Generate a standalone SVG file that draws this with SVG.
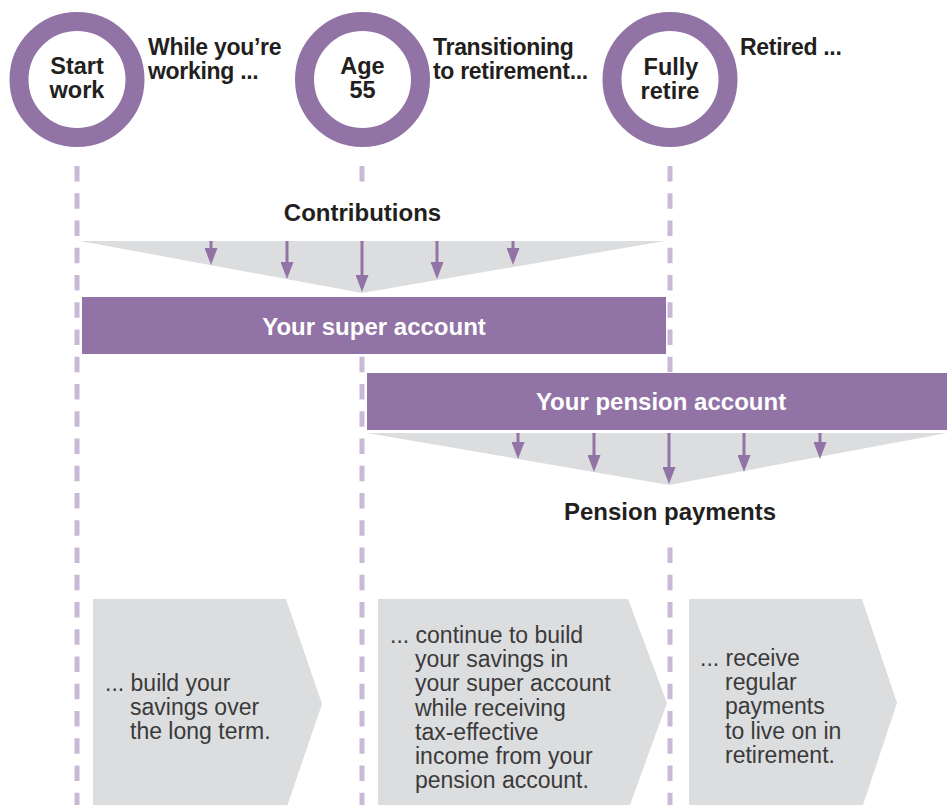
<svg xmlns="http://www.w3.org/2000/svg" width="947" height="805" viewBox="0 0 947 805">
  <style>
    .ring { fill: #ffffff; stroke: #9273a6; stroke-width: 19; }
    .guide { stroke: #c9b9d7; stroke-width: 5; stroke-dasharray: 15.5 11.75; fill: none; }
    .fan { fill: #dcdddf; }
    .bar { fill: #9273a6; }
    .chevron { fill: #dcdddf; }
    .flow { stroke: #9273a6; stroke-width: 3; fill: none; marker-end: url(#head); }
    .label { font-family: "Liberation Sans", Arial, sans-serif; font-weight: bold; fill: #231f20; }
    .milestone { font-size: 23.5px; text-anchor: middle; }
    .stage { font-size: 23px; letter-spacing: -0.3px; }
    .title { font-size: 24px; text-anchor: middle; }
    .barlabel { font-family: "Liberation Sans", Arial, sans-serif; font-weight: bold; font-size: 24px; fill: #ffffff; text-anchor: middle; }
    .body { font-family: "Liberation Sans", Arial, sans-serif; font-size: 23px; fill: #3a3a3a; }
  </style>
  <defs>
    <marker id="head" viewBox="0 0 17 13" markerUnits="userSpaceOnUse" markerWidth="17" markerHeight="13" refX="7" refY="6.5" orient="auto">
      <path d="M0,0 L17,6.5 L0,13 z" fill="#9273a6"/>
    </marker>
  </defs>

  <rect width="947" height="805" fill="#ffffff"/>

  <!-- vertical timeline guides -->
  <g id="guides">
    <line class="guide" x1="77" y1="166" x2="77" y2="805"/>
    <line class="guide" x1="362" y1="166" x2="362" y2="182"/>
    <line class="guide" x1="362" y1="356.75" x2="362" y2="805"/>
    <line class="guide" x1="670" y1="166" x2="670" y2="433"/>
    <line class="guide" x1="670" y1="547.5" x2="670" y2="805"/>
  </g>

  <!-- milestones -->
  <g id="start-work">
    <circle class="ring" cx="77" cy="79.5" r="58"/>
    <text class="label milestone" x="77" y="74">Start</text>
    <text class="label milestone" x="77" y="98">work</text>
  </g>
  <g id="age-55">
    <circle class="ring" cx="362.5" cy="79.5" r="58"/>
    <text class="label milestone" x="362.5" y="74">Age</text>
    <text class="label milestone" x="362.5" y="98">55</text>
  </g>
  <g id="fully-retire">
    <circle class="ring" cx="670" cy="79.5" r="58"/>
    <text class="label milestone" x="671" y="75">Fully</text>
    <text class="label milestone" x="670" y="99">retire</text>
  </g>

  <!-- stage headings -->
  <g id="stage-working">
    <text class="label stage" x="148" y="55">While you’re</text>
    <text class="label stage" x="148" y="79">working ...</text>
  </g>
  <g id="stage-transition">
    <text class="label stage" x="433" y="55">Transitioning</text>
    <text class="label stage" x="433" y="79">to retirement...</text>
  </g>
  <g id="stage-retired">
    <text class="label stage" x="740" y="55">Retired ...</text>
  </g>

  <!-- contributions funnel into super -->
  <g id="contributions">
    <text class="label title" x="362.5" y="221">Contributions</text>
    <polygon class="fan" points="80,241 665,241 362,293"/>
  </g>
  <g id="super-account">
    <rect class="bar" x="82" y="297" width="584" height="57"/>
    <text class="barlabel" x="374" y="335">Your super account</text>
  </g>

  <!-- pension account and payments funnel -->
  <g id="pension-account">
    <rect class="bar" x="367" y="373" width="580" height="57"/>
    <text class="barlabel" x="661" y="410">Your pension account</text>
  </g>
  <g id="pension-payments">
    <polygon class="fan" points="367,433 947,433 669,485"/>
    <text class="label title" x="670" y="520">Pension payments</text>
  </g>

  <!-- flow arrows -->
  <g id="connectors">
    <line class="flow" x1="211" y1="241" x2="211" y2="255"/>
    <line class="flow" x1="287" y1="241" x2="287" y2="269"/>
    <line class="flow" x1="362" y1="241" x2="362" y2="282"/>
    <line class="flow" x1="437" y1="241" x2="437" y2="269"/>
    <line class="flow" x1="513" y1="241" x2="513" y2="255"/>

    <line class="flow" x1="518" y1="433" x2="518" y2="449"/>
    <line class="flow" x1="594" y1="433" x2="594" y2="462"/>
    <line class="flow" x1="669" y1="433" x2="669" y2="474"/>
    <line class="flow" x1="744" y1="433" x2="744" y2="462"/>
    <line class="flow" x1="820" y1="433" x2="820" y2="449"/>
  </g>

  <!-- stage descriptions -->
  <g id="desc-working">
    <polygon class="chevron" points="93,599 286,599 322,704 287.5,805 93,805"/>
    <text class="body" x="105" y="691"><tspan x="105">... build your</tspan><tspan x="130" dy="24.2">savings over</tspan><tspan x="130" dy="24.2">the long term.</tspan></text>
  </g>
  <g id="desc-transition">
    <polygon class="chevron" points="378,599 628,599 667,703 630,805 378,805"/>
    <text class="body" x="390" y="643"><tspan x="390">... continue to build</tspan><tspan x="415" dy="24.2">your savings in</tspan><tspan x="415" dy="24.2">your super account</tspan><tspan x="415" dy="24.2">while receiving</tspan><tspan x="415" dy="24.2">tax-effective</tspan><tspan x="415" dy="24.2">income from your</tspan><tspan x="415" dy="24.2">pension account.</tspan></text>
  </g>
  <g id="desc-retired">
    <polygon class="chevron" points="689,599 862,599 897,703 863,805 689,805"/>
    <text class="body" x="700" y="666"><tspan x="700">... receive</tspan><tspan x="725" dy="24.2">regular</tspan><tspan x="725" dy="24.2">payments</tspan><tspan x="725" dy="24.2">to live on in</tspan><tspan x="725" dy="24.2">retirement.</tspan></text>
  </g>
</svg>
